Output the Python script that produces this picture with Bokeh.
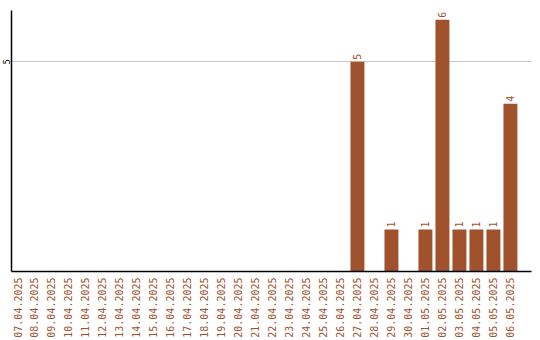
from bokeh.plotting import figure
from bokeh.models import Range1d, FixedTicker, ColumnDataSource
from bokeh.core.properties import value
from bokeh.embed import file_html
from bokeh.resources import INLINE

# Daily counts, 07.04.2025 - 06.05.2025
dates = [
    "07.04.2025", "08.04.2025", "09.04.2025", "10.04.2025", "11.04.2025",
    "12.04.2025", "13.04.2025", "14.04.2025", "15.04.2025", "16.04.2025",
    "17.04.2025", "18.04.2025", "19.04.2025", "20.04.2025", "21.04.2025",
    "22.04.2025", "23.04.2025", "24.04.2025", "25.04.2025", "26.04.2025",
    "27.04.2025", "28.04.2025", "29.04.2025", "30.04.2025", "01.05.2025",
    "02.05.2025", "03.05.2025", "04.05.2025", "05.05.2025", "06.05.2025",
]
counts = [0, 0, 0, 0, 0, 0, 0, 0, 0, 0,
          0, 0, 0, 0, 0, 0, 0, 0, 0, 0,
          5, 0, 1, 0, 1, 6, 1, 1, 1, 4]
y_ticks = [5]

BAR = "#A0522D"
FONT = "DejaVu Sans Mono"

idx = list(range(len(dates)))
src = ColumnDataSource(dict(x=idx, y=counts))
lab_x = [i for i, c in zip(idx, counts) if c > 0]
lab_y = [c for c in counts if c > 0]
lab_src = ColumnDataSource(dict(x=lab_x, y=lab_y, t=[str(c) for c in lab_y]))

p = figure(width=540, height=340, output_backend="svg", toolbar_location=None,
           x_range=Range1d(-0.353, 30.24), y_range=Range1d(0, 6.22),
           min_border_left=0, min_border_right=9, min_border_top=10,
           min_border_bottom=0)
p.outline_line_color = None
p.background_fill_color = "white"
p.border_fill_color = "white"

p.vbar(x="x", top="y", width=0.82, source=src, fill_color=BAR, line_color=None)
p.text(x="x", y="y", text="t", source=lab_src, angle=1.5708,
       text_align="left", text_baseline="middle", y_offset=-2,
       text_color=BAR, text_font=value(FONT), text_font_size="10px")

p.xgrid.visible = False
p.ygrid.ticker = FixedTicker(ticks=y_ticks)
p.ygrid.grid_line_color = "#c8c8c8"

p.xaxis.ticker = FixedTicker(ticks=idx)
p.xaxis.major_label_overrides = {i: d for i, d in zip(idx, dates)}
p.xaxis.major_label_orientation = 1.5708
p.xaxis.major_label_text_color = BAR
p.xaxis.major_label_text_font = FONT
p.xaxis.major_label_text_font_size = "10px"
p.xaxis.major_tick_line_color = None
p.xaxis.minor_tick_line_color = None
p.xaxis.major_tick_out = 0
p.xaxis.major_label_standoff = 6
p.xaxis.axis_line_color = "black"
p.xaxis.axis_line_width = 1.5

p.yaxis.ticker = FixedTicker(ticks=y_ticks)
p.yaxis.major_label_orientation = "vertical"
p.yaxis.major_label_text_color = "black"
p.yaxis.major_label_text_font = FONT
p.yaxis.major_label_text_font_size = "9px"
p.yaxis.major_tick_line_color = None
p.yaxis.minor_tick_line_color = None
p.yaxis.major_tick_out = 0
p.yaxis.major_label_standoff = 1
p.yaxis.axis_line_color = "black"
p.yaxis.axis_line_width = 1.5

open("out.html", "w").write(file_html(p, INLINE))
